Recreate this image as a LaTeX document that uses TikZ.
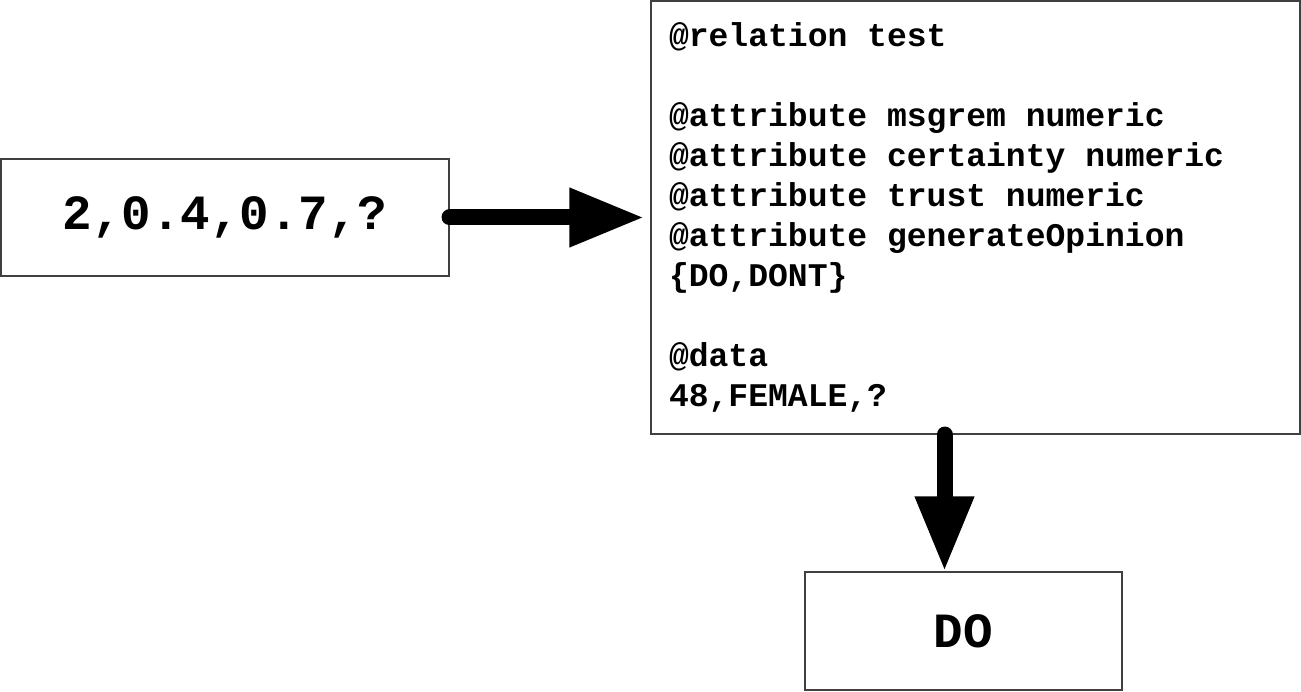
\documentclass[tikz,border=0pt]{standalone}
\usepackage{fontspec}
\setmonofont{Liberation Mono}
\usetikzlibrary{positioning, calc, arrows.meta}
\newcommand{\wsp}{\kern0.6em\relax}

\begin{document}
\begin{tikzpicture}[
    box/.style={draw=black!75, line width=0.6pt, inner sep=0pt, font=\ttfamily\bfseries\fontsize{28}{34}\selectfont},
    bigarrow/.style={line width=0.32cm, line cap=round, -{Triangle[length=1.5cm, width=1.1cm]}}
  ]
        \useasboundingbox (0,0) rectangle (26.02,-13.84);

        \node[box, minimum width=8.96cm, minimum height=2.34cm] (input) at (4.5,-4.35) {2,0.4,0.7,?}; %input
        \node[box, minimum height=8.66cm, text width=12.26cm, inner xsep=0.36cm, align=left,
              font=\ttfamily\bfseries\fontsize{18.8}{22.76}\selectfont] (arff) at (19.51,-4.35)
              {@relation\wsp test\\ ~\\
               @attribute\wsp msgrem\wsp numeric\\
               @attribute\wsp certainty\wsp numeric\\
               @attribute\wsp trust\wsp numeric\\
               @attribute\wsp generateOpinion\\
               \{DO,DONT\}\\ ~\\
               @data\\
               48,FEMALE,?}; %arff file
        \node[box, minimum width=6.34cm, minimum height=2.36cm] (output) at (19.27,-12.62) {DO}; %output

        \draw[bigarrow, shorten >=0.12cm] (input.east) -- (arff.west |- input.east);
        \draw[bigarrow] ([xshift=-0.38cm]output.north |- arff.south) -- ([xshift=-0.38cm]output.north);
      \end{tikzpicture}
\end{document}
